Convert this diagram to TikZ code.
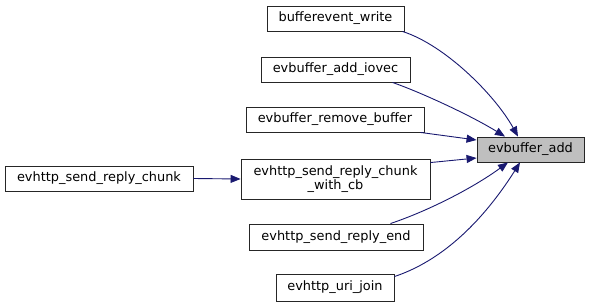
\documentclass[tikz,border=0pt]{standalone}
\usepackage{fontspec}
\setmainfont{DejaVu Sans}
\usetikzlibrary{arrows.meta}
\definecolor{edgeblue}{HTML}{191970}
\definecolor{hlgray}{HTML}{BFBFBF}
\tikzset{
  fn/.style={draw=black!85, line width=0.9pt, fill=white, inner sep=0pt, align=center,
    font=\fontsize{12.9}{14}\selectfont, minimum height=25pt},
  call/.style={draw=edgeblue, line width=0.9pt, -{Triangle[length=10pt,width=8pt]}}
}
\begin{document}
\begin{tikzpicture}[x=1pt,y=-1pt]
\useasboundingbox (0,0) rectangle (589,307);
\node[fn, minimum width=137pt] (bw) at (335.5,18.5) {bufferevent\_write};
\node[fn, minimum width=149pt] (iov) at (335.5,69.5) {evbuffer\_add\_iovec};
\node[fn, minimum width=178pt] (rem) at (335,119.5) {evbuffer\_remove\_buffer};
\node[fn, minimum width=107pt, fill=hlgray] (add) at (530.5,149.5) {evbuffer\_add};
\node[fn, minimum width=188pt] (chunk) at (99,178.5) {evhttp\_send\_reply\_chunk};
\node[fn, minimum width=189pt, minimum height=40pt] (wcb) at (335.5,179) {evhttp\_send\_reply\_chunk\\\_with\_cb};
\node[fn, minimum width=174pt, minimum height=26pt] (end) at (336,237) {evhttp\_send\_reply\_end};
\node[fn, minimum width=118pt, minimum height=27pt] (uri) at (335,287.5) {evhttp\_uri\_join};

\draw[call] ([xshift=-2pt]bw.south east) .. controls (445,45) and (495,95) .. ([xshift=-12.5pt]add.north);
\draw[call] ([xshift=-18pt]iov.south east) .. controls (420,92) and (470,115) .. ([xshift=-25.5pt]add.north);
\draw[call] ([xshift=-4pt]rem.south east) -- ([yshift=9.5pt]add.west);
\draw[call] ([yshift=-4pt]wcb.north east) -- ([yshift=-8.5pt]add.west);
\draw[call] ([xshift=-33pt]end.north east) .. controls (425,212) and (470,190) .. ([xshift=-22.5pt]add.south);
\draw[call] ([yshift=-3pt]uri.north east) .. controls (450,258) and (490,210) .. ([xshift=-10.5pt]add.south);
\draw[call] (chunk.east) -- (wcb.west);
\end{tikzpicture}
\end{document}
